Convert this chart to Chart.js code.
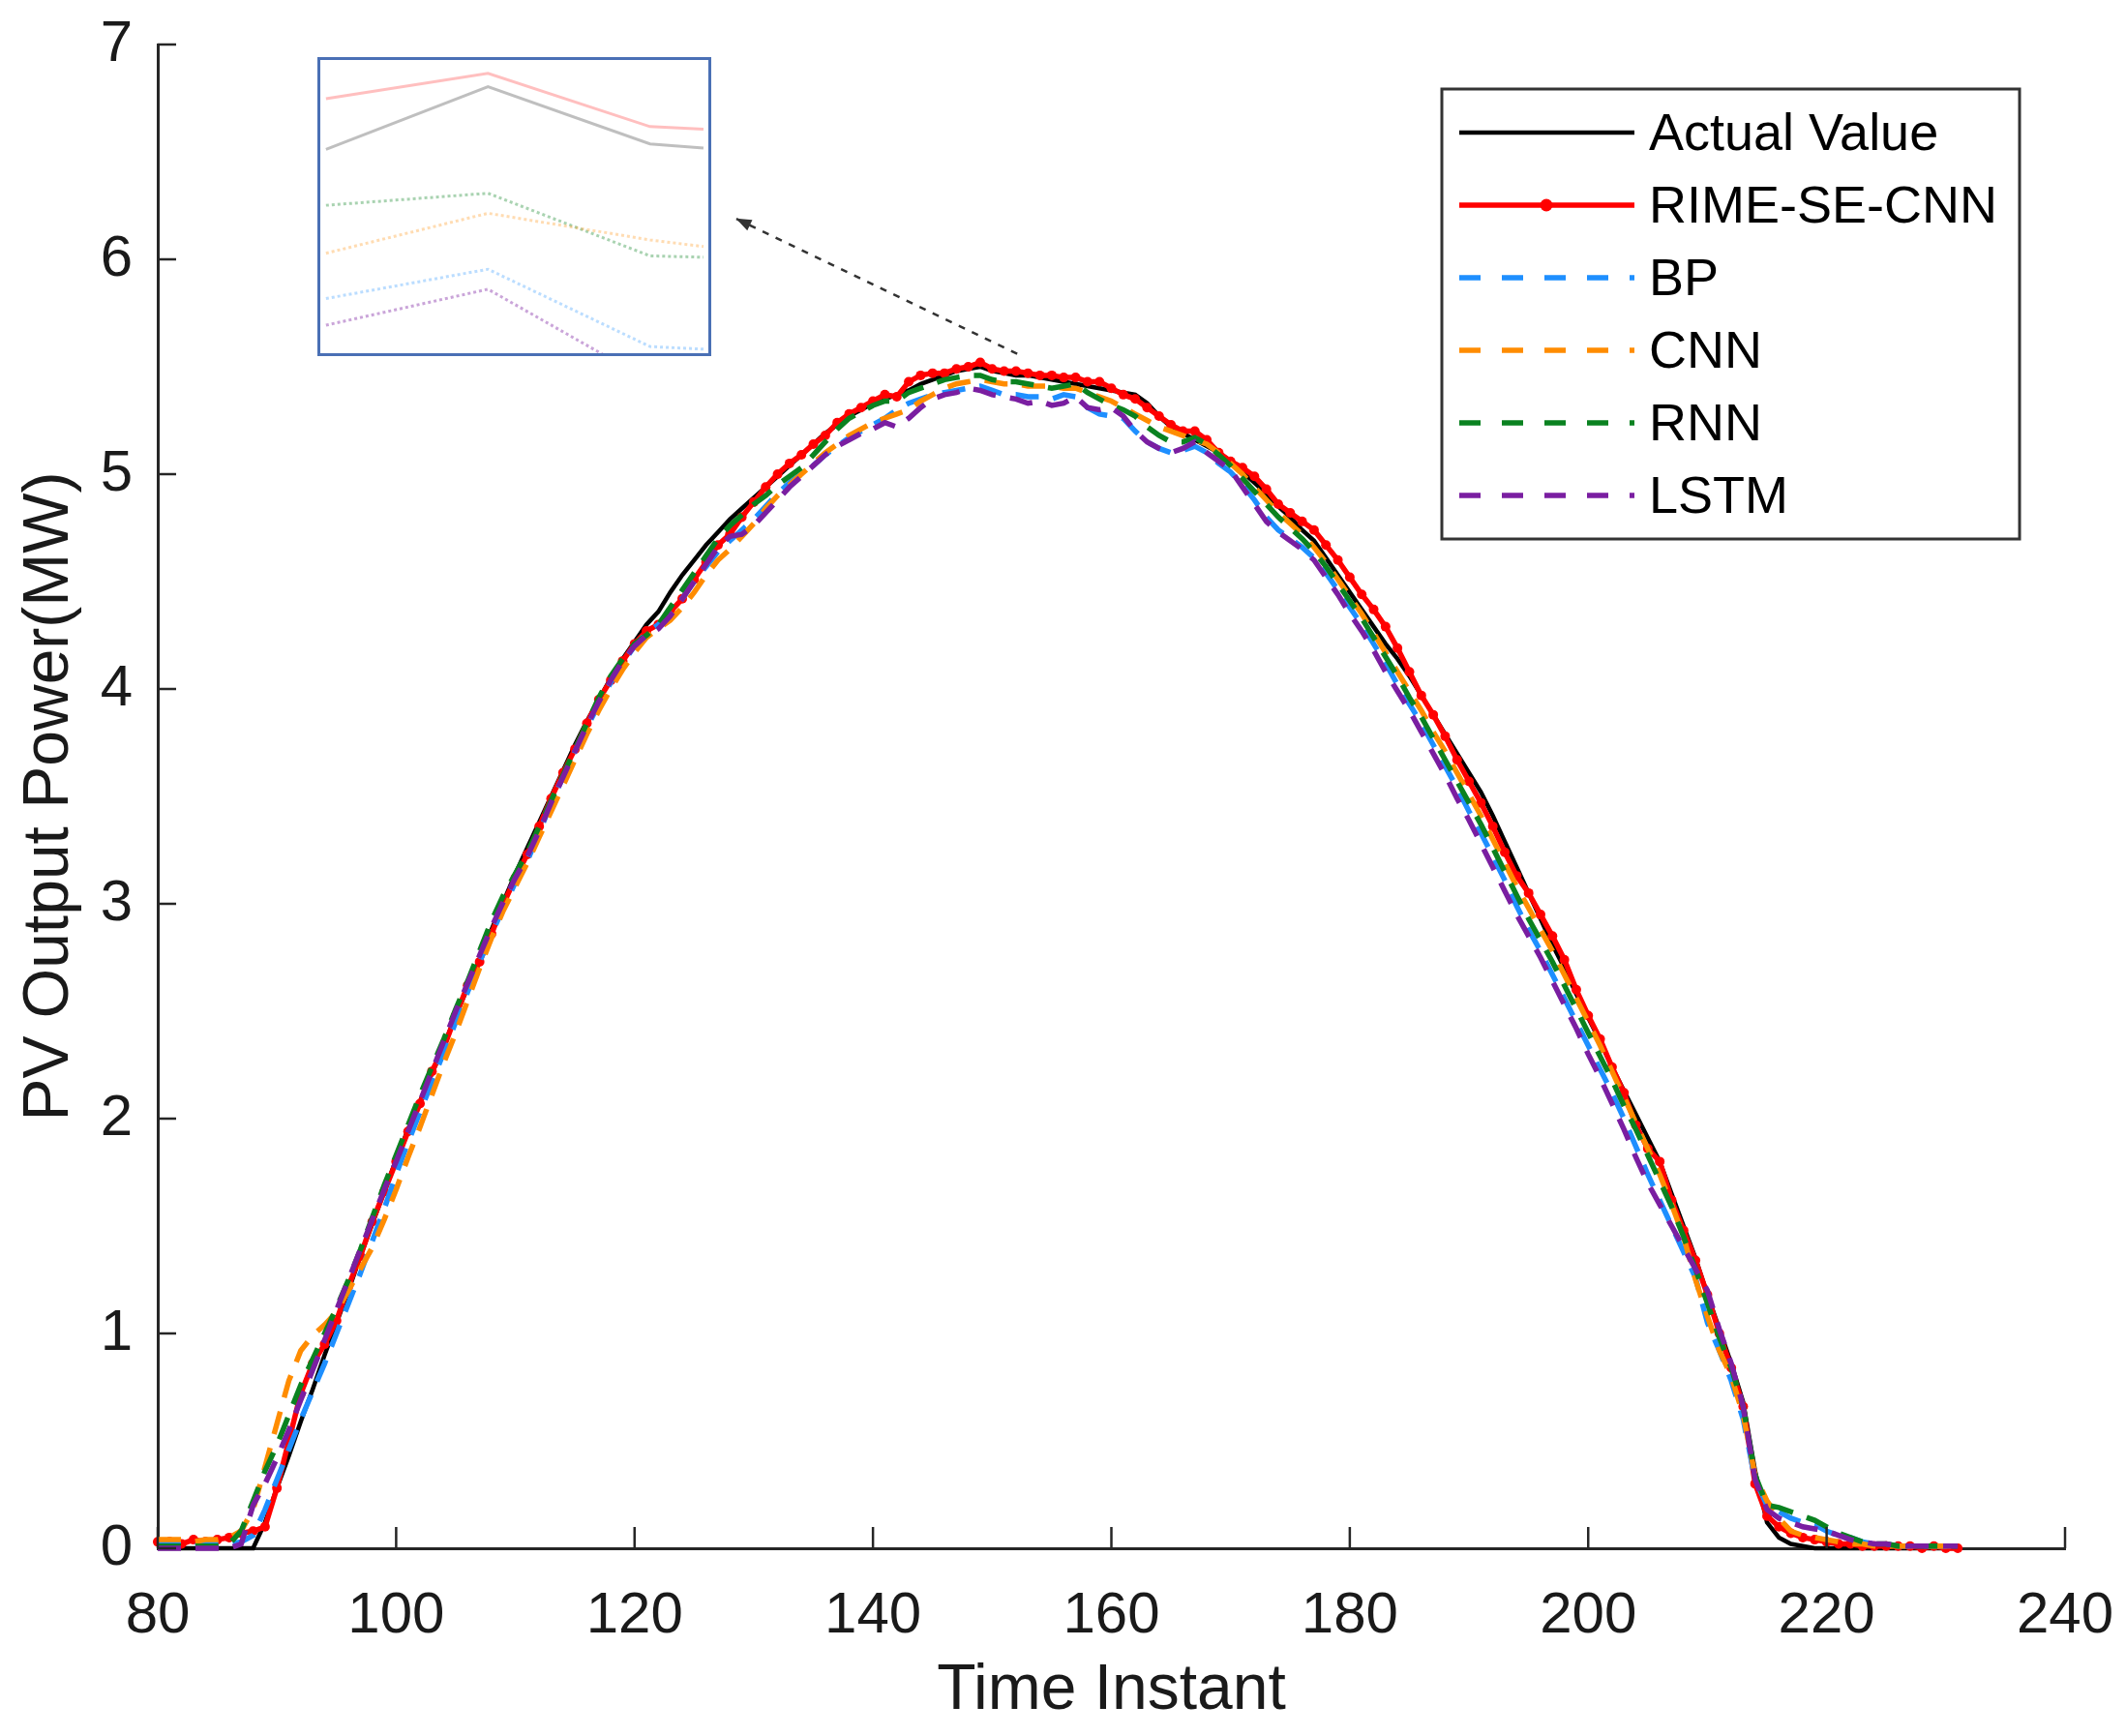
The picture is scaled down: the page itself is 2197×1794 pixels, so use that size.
<!DOCTYPE html>
<html>
<head>
<meta charset="utf-8">
<title>PV Output Power</title>
<script src="https://cdn.jsdelivr.net/npm/chart.js@4.4.1/dist/chart.umd.min.js"></script>
<style>
    html, body { margin: 0; padding: 0; background: #ffffff; overflow: hidden; }
    #wrap { position: relative; width: 2197px; height: 1794px; }
    #mainChart { display: block; }
    #inset { position: absolute; box-sizing: border-box; border: 3px solid #4a70b5; background: #ffffff; }
    #inset canvas { display: block; }
</style>
</head>
<body>
<div id="wrap">
    <canvas id="mainChart" width="2197" height="1794"></canvas>
    <div id="inset"><canvas id="insetChart"></canvas></div>
</div>
<script>
// Time instants 80 ... 231, one value per instant
const firstInstant = 80;

const actualValue = [
    0, 0, 0, 0, 0, 0, 0, 0, 0.00, 0.12,
    0.28, 0.43, 0.59, 0.74, 0.90, 1.05, 1.20, 1.36, 1.51, 1.66,
    1.81, 1.95, 2.08, 2.21, 2.34, 2.48, 2.61, 2.74, 2.88, 3.01,
    3.14, 3.26, 3.38, 3.50, 3.62, 3.74, 3.85, 3.95, 4.05, 4.14,
    4.22, 4.30, 4.36, 4.45, 4.53, 4.60, 4.67, 4.73, 4.79, 4.84,
    4.89, 4.94, 4.99, 5.04, 5.09, 5.14, 5.19, 5.23, 5.27, 5.30,
    5.33, 5.35, 5.37, 5.39, 5.42, 5.44, 5.46, 5.48, 5.49, 5.50,
    5.48, 5.47, 5.46, 5.46, 5.45, 5.44, 5.43, 5.42, 5.41, 5.40,
    5.39, 5.38, 5.37, 5.33, 5.27, 5.22, 5.19, 5.16, 5.13, 5.10,
    5.06, 5.01, 4.96, 4.91, 4.85, 4.80, 4.74, 4.69, 4.61, 4.53,
    4.45, 4.37, 4.29, 4.21, 4.14, 4.06, 3.97, 3.88, 3.79, 3.70,
    3.61, 3.52, 3.41, 3.29, 3.17, 3.05, 2.93, 2.81, 2.70, 2.58,
    2.47, 2.36, 2.24, 2.13, 2.02, 1.91, 1.80, 1.65, 1.50, 1.35,
    1.18, 1.02, 0.86, 0.68, 0.36, 0.12, 0.05, 0.02, 0.01, 0,
    0, 0, 0, 0, 0, 0, 0, 0, 0, 0,
    0, 0
];

const rimeSeCnn = [
    0.03, 0.03, 0.02, 0.04, 0.03, 0.04, 0.05, 0.07, 0.08, 0.10,
    0.28, 0.50, 0.72, 0.86, 0.95, 1.06, 1.22, 1.36, 1.52, 1.66,
    1.80, 1.94, 2.07, 2.22, 2.33, 2.48, 2.62, 2.73, 2.86, 3.00,
    3.12, 3.23, 3.36, 3.49, 3.61, 3.72, 3.84, 3.95, 4.04, 4.13,
    4.21, 4.27, 4.30, 4.36, 4.42, 4.51, 4.59, 4.67, 4.72, 4.80,
    4.87, 4.94, 5.00, 5.05, 5.09, 5.14, 5.18, 5.24, 5.28, 5.31,
    5.34, 5.37, 5.36, 5.43, 5.46, 5.47, 5.47, 5.49, 5.50, 5.52,
    5.49, 5.48, 5.48, 5.47, 5.46, 5.46, 5.45, 5.45, 5.43, 5.43,
    5.40, 5.37, 5.35, 5.31, 5.27, 5.23, 5.20, 5.20, 5.16, 5.10,
    5.06, 5.03, 4.99, 4.93, 4.86, 4.82, 4.78, 4.74, 4.67, 4.60,
    4.52, 4.44, 4.37, 4.29, 4.19, 4.08, 3.97, 3.88, 3.78, 3.67,
    3.57, 3.47, 3.36, 3.24, 3.13, 3.05, 2.95, 2.85, 2.74, 2.60,
    2.48, 2.37, 2.24, 2.12, 1.97, 1.86, 1.80, 1.62, 1.48, 1.34,
    1.18, 1.00, 0.84, 0.66, 0.30, 0.15, 0.10, 0.07, 0.05, 0.04,
    0.03, 0.02, 0.02, 0.01, 0.01, 0.01, 0.01, 0.01, 0.00, 0.01,
    0.00, 0.00
];

const bp = [
    0.02, 0.02, 0.02, 0.01, 0.02, 0.02, 0.02, 0.03, 0.06, 0.18,
    0.32, 0.46, 0.60, 0.73, 0.86, 1.00, 1.14, 1.28, 1.43, 1.58,
    1.74, 1.89, 2.03, 2.17, 2.31, 2.45, 2.59, 2.73, 2.86, 2.98,
    3.10, 3.20, 3.33, 3.47, 3.59, 3.71, 3.82, 3.93, 4.03, 4.12,
    4.20, 4.26, 4.30, 4.35, 4.42, 4.50, 4.57, 4.64, 4.69, 4.74,
    4.79, 4.85, 4.91, 4.96, 5.00, 5.04, 5.09, 5.13, 5.17, 5.20,
    5.23, 5.26, 5.30, 5.33, 5.35, 5.37, 5.38, 5.39, 5.40, 5.41,
    5.39, 5.37, 5.37, 5.36, 5.36, 5.35, 5.37, 5.36, 5.31, 5.28,
    5.27, 5.26, 5.20, 5.15, 5.12, 5.10, 5.11, 5.13, 5.10, 5.05,
    5.01, 4.95, 4.88, 4.80, 4.74, 4.70, 4.66, 4.61, 4.54, 4.46,
    4.38, 4.30, 4.21, 4.12, 4.02, 3.93, 3.84, 3.74, 3.64, 3.54,
    3.43, 3.33, 3.22, 3.11, 2.99, 2.88, 2.78, 2.67, 2.56, 2.45,
    2.34, 2.23, 2.12, 2.00, 1.87, 1.74, 1.62, 1.50, 1.38, 1.26,
    1.05, 0.92, 0.78, 0.60, 0.32, 0.20, 0.17, 0.14, 0.12, 0.11,
    0.08, 0.06, 0.05, 0.03, 0.02, 0.02, 0.01, 0.01, 0.01, 0.01,
    0.01, 0.01
];

const cnn = [
    0.04, 0.04, 0.04, 0.03, 0.04, 0.04, 0.05, 0.08, 0.18, 0.38,
    0.58, 0.78, 0.92, 0.99, 1.04, 1.10, 1.20, 1.30, 1.40, 1.53,
    1.67, 1.82, 1.96, 2.11, 2.26, 2.40, 2.55, 2.70, 2.84, 2.97,
    3.08, 3.19, 3.31, 3.43, 3.55, 3.67, 3.79, 3.90, 4.00, 4.09,
    4.17, 4.24, 4.28, 4.32, 4.38, 4.45, 4.53, 4.60, 4.65, 4.71,
    4.77, 4.84, 4.90, 4.95, 5.00, 5.05, 5.10, 5.14, 5.18, 5.21,
    5.24, 5.26, 5.28, 5.30, 5.34, 5.37, 5.40, 5.42, 5.43, 5.44,
    5.43, 5.42, 5.42, 5.41, 5.41, 5.41, 5.40, 5.40, 5.38, 5.36,
    5.34, 5.31, 5.28, 5.25, 5.22, 5.20, 5.18, 5.16, 5.14, 5.10,
    5.05, 5.00, 4.94, 4.88, 4.82, 4.77, 4.72, 4.66, 4.59, 4.51,
    4.43, 4.35, 4.26, 4.17, 4.08, 3.99, 3.90, 3.80, 3.71, 3.61,
    3.51, 3.41, 3.30, 3.19, 3.08, 2.98, 2.88, 2.78, 2.67, 2.56,
    2.45, 2.34, 2.22, 2.10, 1.98, 1.86, 1.74, 1.60, 1.45, 1.25,
    1.08, 0.92, 0.80, 0.62, 0.34, 0.22, 0.14, 0.08, 0.06, 0.05,
    0.04, 0.03, 0.02, 0.02, 0.01, 0.01, 0.01, 0.01, 0.01, 0.01,
    0.01, 0.01
];

const rnn = [
    0.01, 0.01, 0.01, 0.01, 0.01, 0.01, 0.02, 0.08, 0.22, 0.36,
    0.48, 0.62, 0.76, 0.88, 1.00, 1.12, 1.25, 1.39, 1.54, 1.69,
    1.83, 1.97, 2.11, 2.24, 2.37, 2.51, 2.64, 2.78, 2.92, 3.04,
    3.14, 3.24, 3.36, 3.48, 3.60, 3.72, 3.84, 3.96, 4.06, 4.14,
    4.21, 4.25, 4.30, 4.38, 4.46, 4.54, 4.62, 4.70, 4.76, 4.81,
    4.86, 4.90, 4.95, 4.99, 5.03, 5.09, 5.15, 5.21, 5.26, 5.29,
    5.32, 5.34, 5.34, 5.38, 5.40, 5.42, 5.44, 5.45, 5.46, 5.46,
    5.44, 5.43, 5.43, 5.42, 5.41, 5.40, 5.41, 5.42, 5.38, 5.35,
    5.32, 5.30, 5.27, 5.22, 5.18, 5.15, 5.15, 5.17, 5.14, 5.09,
    5.04, 4.98, 4.92, 4.86, 4.80, 4.75, 4.70, 4.64, 4.57, 4.49,
    4.41, 4.33, 4.24, 4.15, 4.06, 3.96, 3.87, 3.77, 3.67, 3.57,
    3.47, 3.37, 3.26, 3.15, 3.04, 2.93, 2.83, 2.73, 2.62, 2.51,
    2.40, 2.29, 2.18, 2.06, 1.95, 1.83, 1.71, 1.59, 1.45, 1.30,
    1.14, 0.98, 0.84, 0.66, 0.34, 0.20, 0.19, 0.17, 0.15, 0.13,
    0.10, 0.07, 0.05, 0.03, 0.02, 0.02, 0.01, 0.01, 0.01, 0.01,
    0.01, 0.01
];

const lstm = [
    0, 0, 0, 0, 0, 0, 0.00, 0.02, 0.20, 0.30,
    0.42, 0.55, 0.69, 0.83, 0.97, 1.11, 1.25, 1.39, 1.53, 1.67,
    1.80, 1.94, 2.08, 2.22, 2.36, 2.50, 2.63, 2.76, 2.89, 3.01,
    3.12, 3.22, 3.34, 3.47, 3.59, 3.71, 3.83, 3.94, 4.04, 4.13,
    4.20, 4.25, 4.28, 4.34, 4.42, 4.50, 4.58, 4.66, 4.71, 4.72,
    4.76, 4.82, 4.88, 4.94, 4.99, 5.04, 5.09, 5.13, 5.16, 5.19,
    5.21, 5.24, 5.22, 5.26, 5.31, 5.35, 5.37, 5.38, 5.40, 5.39,
    5.37, 5.36, 5.35, 5.33, 5.34, 5.32, 5.33, 5.36, 5.31, 5.30,
    5.31, 5.27, 5.20, 5.15, 5.12, 5.10, 5.12, 5.15, 5.10, 5.06,
    5.02, 4.94, 4.86, 4.78, 4.73, 4.69, 4.65, 4.60, 4.52, 4.44,
    4.35, 4.27, 4.18, 4.08, 3.99, 3.90, 3.80, 3.70, 3.60, 3.49,
    3.39, 3.28, 3.17, 3.06, 2.95, 2.85, 2.75, 2.64, 2.53, 2.42,
    2.30, 2.19, 2.07, 1.95, 1.82, 1.70, 1.60, 1.50, 1.40, 1.30,
    1.20, 1.02, 0.86, 0.66, 0.32, 0.18, 0.14, 0.12, 0.10, 0.09,
    0.08, 0.06, 0.04, 0.03, 0.02, 0.02, 0.01, 0.01, 0.01, 0.01,
    0.01, 0.01
];

const xTicks = [80, 100, 120, 140, 160, 180, 200, 220, 240];
const yTicks = [0, 1, 2, 3, 4, 5, 6, 7];

// Magnified view in the upper-left box
const insetX = [0, 1, 2, 2.33];
const insetActual = [5.453, 5.500, 5.457, 5.454];
const insetRime = [5.491, 5.510, 5.470, 5.468];
const insetBp = [5.341, 5.363, 5.305, 5.303];
const insetCnn = [5.375, 5.405, 5.385, 5.380];
const insetRnn = [5.411, 5.420, 5.373, 5.372];
const insetLstm = [5.321, 5.348, 5.279, 5.275];

const FONT = "'Liberation Sans', Arial, sans-serif";
const AXIS_COLOR = "#262626";
const DASH = [24, 15];

const series = [
    { label: "Actual Value", data: actualValue, color: "#000000", width: 4.5, dash: [], marker: false },
    { label: "RIME-SE-CNN", data: rimeSeCnn, color: "#ff0000", width: 5.5, dash: [], marker: true },
    { label: "BP", data: bp, color: "#1e8fff", width: 5.5, dash: DASH, marker: false },
    { label: "CNN", data: cnn, color: "#ff8c00", width: 5.5, dash: DASH, marker: false },
    { label: "RNN", data: rnn, color: "#0a8220", width: 5.5, dash: DASH, marker: false },
    { label: "LSTM", data: lstm, color: "#7a1ea1", width: 5.5, dash: DASH, marker: false }
];

function toPoints(values) {
    return values.map((v, i) => ({ x: firstInstant + i, y: v }));
}

// inward ticks, legend box and the dashed arrow
const decorPlugin = {
    id: "decor",
    afterDatasetsDraw(chart) {
        const { ctx, chartArea, scales } = chart;
        const xs = scales.x, ys = scales.y;
        ctx.save();

        // inward tick marks
        ctx.strokeStyle = AXIS_COLOR;
        ctx.lineWidth = 2.5;
        ctx.setLineDash([]);
        xTicks.forEach(v => {
            const px = xs.getPixelForValue(v);
            ctx.beginPath();
            ctx.moveTo(px, chartArea.bottom);
            ctx.lineTo(px, chartArea.bottom - 22);
            ctx.stroke();
        });
        yTicks.forEach(v => {
            const py = ys.getPixelForValue(v);
            ctx.beginPath();
            ctx.moveTo(chartArea.left, py);
            ctx.lineTo(chartArea.left + 19, py);
            ctx.stroke();
        });

        // dashed arrow pointing at the magnified box
        const x0 = xs.getPixelForValue(152.1), y0 = ys.getPixelForValue(5.56);
        const x1 = xs.getPixelForValue(128.5), y1 = ys.getPixelForValue(6.19);
        ctx.strokeStyle = "#333333";
        ctx.fillStyle = "#333333";
        ctx.lineWidth = 2.5;
        ctx.setLineDash([7, 8]);
        ctx.beginPath();
        ctx.moveTo(x0, y0);
        ctx.lineTo(x1, y1);
        ctx.stroke();
        ctx.setLineDash([]);
        const ang = Math.atan2(y1 - y0, x1 - x0);
        ctx.beginPath();
        ctx.moveTo(x1, y1);
        ctx.lineTo(x1 - 16 * Math.cos(ang) + 6 * Math.sin(ang), y1 - 16 * Math.sin(ang) - 6 * Math.cos(ang));
        ctx.lineTo(x1 - 16 * Math.cos(ang) - 6 * Math.sin(ang), y1 - 16 * Math.sin(ang) + 6 * Math.cos(ang));
        ctx.closePath();
        ctx.fill();

        // legend
        const boxW = 597, boxH = 465;
        const bx = chartArea.right - 47 - boxW;
        const by = chartArea.top + 46;
        ctx.fillStyle = "#ffffff";
        ctx.fillRect(bx, by, boxW, boxH);
        ctx.strokeStyle = "#333333";
        ctx.lineWidth = 3;
        ctx.strokeRect(bx, by, boxW, boxH);
        ctx.font = "54px " + FONT;
        ctx.textBaseline = "middle";
        ctx.textAlign = "left";
        chart.data.datasets.forEach((ds, i) => {
            const ry = by + 45 + i * 75;
            ctx.strokeStyle = ds.borderColor;
            ctx.lineWidth = ds.borderWidth;
            ctx.setLineDash(ds.borderDash.length ? [22, 22] : []);
            ctx.beginPath();
            ctx.moveTo(bx + 18, ry);
            ctx.lineTo(bx + 199, ry);
            ctx.stroke();
            ctx.setLineDash([]);
            if (ds.pointRadius > 0) {
                ctx.fillStyle = ds.borderColor;
                ctx.beginPath();
                ctx.arc(bx + 108, ry, 6.5, 0, Math.PI * 2);
                ctx.fill();
            }
            ctx.fillStyle = "#000000";
            ctx.fillText(ds.label, bx + 214, ry + 3);
        });

        ctx.restore();
    }
};

const mainChart = new Chart(document.getElementById("mainChart"), {
    type: "line",
    data: {
        datasets: series.map((s, i) => ({
            label: s.label,
            data: toPoints(s.data),
            borderColor: s.color,
            backgroundColor: s.color,
            borderWidth: s.width,
            borderDash: s.dash,
            pointRadius: s.marker ? 5 : 0,
            pointBorderWidth: 0,
            pointBackgroundColor: s.color,
            tension: 0,
            fill: false,
            clip: false,
            order: series.length - i
        }))
    },
    options: {
        responsive: false,
        devicePixelRatio: 1,
        animation: false,
        events: [],
        layout: { padding: { top: 46, right: 63, left: 0, bottom: 0 } },
        plugins: {
            legend: { display: false },
            tooltip: { enabled: false }
        },
        scales: {
            x: {
                type: "linear",
                min: 80,
                max: 240,
                afterBuildTicks: (scale) => { scale.ticks = xTicks.map(v => ({ value: v })); },
                afterFit: (scale) => {
                    scale.height = 194;
                    scale.paddingLeft = 0;
                    scale.paddingRight = 0;
                },
                grid: { display: false, drawTicks: false },
                border: { display: true, color: AXIS_COLOR, width: 3 },
                ticks: {
                    color: "#1a1a1a",
                    padding: 34,
                    maxRotation: 0,
                    font: { family: FONT, size: 60 }
                },
                title: {
                    display: true,
                    text: "Time Instant",
                    color: "#1a1a1a",
                    font: { family: FONT, size: 66 },
                    padding: { top: 0, bottom: 7 }
                }
            },
            y: {
                type: "linear",
                min: 0,
                max: 7,
                afterBuildTicks: (scale) => { scale.ticks = yTicks.map(v => ({ value: v })); },
                afterFit: (scale) => {
                    scale.width = 163;
                    scale.paddingTop = 0;
                    scale.paddingBottom = 0;
                },
                grid: { display: false, drawTicks: false },
                border: { display: true, color: AXIS_COLOR, width: 3 },
                ticks: {
                    color: "#1a1a1a",
                    padding: 26,
                    font: { family: FONT, size: 60 }
                },
                title: {
                    display: true,
                    text: "PV Output Power(MW)",
                    color: "#1a1a1a",
                    font: { family: FONT, size: 66 },
                    padding: { top: 12, bottom: 0 }
                }
            }
        }
    },
    plugins: [decorPlugin]
});

// place the magnified box from the main chart's scales
const xs = mainChart.scales.x, ys = mainChart.scales.y;
const boxLeft = xs.getPixelForValue(93.4);
const boxRight = xs.getPixelForValue(126.4);
const boxTop = ys.getPixelForValue(6.94);
const boxBottom = ys.getPixelForValue(5.55);
const insetDiv = document.getElementById("inset");
insetDiv.style.left = boxLeft + "px";
insetDiv.style.top = boxTop + "px";
insetDiv.style.width = (boxRight - boxLeft) + "px";
insetDiv.style.height = (boxBottom - boxTop) + "px";
const insetCanvas = document.getElementById("insetChart");
insetCanvas.width = Math.round(boxRight - boxLeft) - 6;
insetCanvas.height = Math.round(boxBottom - boxTop) - 6;

const insetSeries = [
    { data: insetActual, color: "rgba(0, 0, 0, 0.25)", dash: [] },
    { data: insetRime, color: "rgba(255, 0, 0, 0.25)", dash: [] },
    { data: insetBp, color: "rgba(30, 143, 255, 0.3)", dash: [3, 3] },
    { data: insetCnn, color: "rgba(255, 140, 0, 0.3)", dash: [3, 3] },
    { data: insetRnn, color: "rgba(10, 130, 32, 0.35)", dash: [3, 3] },
    { data: insetLstm, color: "rgba(122, 30, 161, 0.4)", dash: [3, 3] }
];

new Chart(insetCanvas, {
    type: "line",
    data: {
        datasets: insetSeries.map(s => ({
            data: s.data.map((v, i) => ({ x: insetX[i], y: v })),
            borderColor: s.color,
            borderWidth: 3,
            borderDash: s.dash,
            pointRadius: 0,
            tension: 0,
            fill: false
        }))
    },
    options: {
        responsive: false,
        devicePixelRatio: 1,
        animation: false,
        events: [],
        layout: { padding: 0 },
        plugins: {
            legend: { display: false },
            tooltip: { enabled: false }
        },
        scales: {
            x: { type: "linear", display: false, min: -0.035, max: 2.36 },
            y: { type: "linear", display: false, min: 5.30, max: 5.52 }
        }
    }
});
</script>
</body>
</html>
